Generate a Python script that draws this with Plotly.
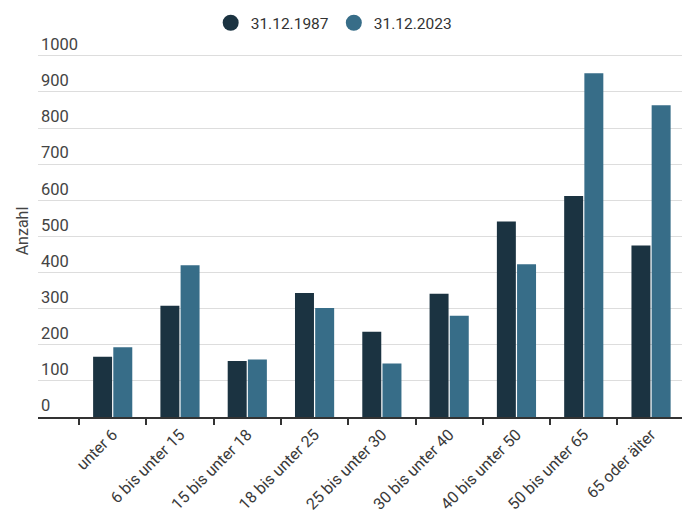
import plotly.graph_objects as go

# Age groups and counts at two reference dates
categories = ["unter 6", "6 bis unter 15", "15 bis unter 18", "18 bis unter 25",
              "25 bis unter 30", "30 bis unter 40", "40 bis unter 50",
              "50 bis unter 65", "65 oder älter"]
values_1987 = [167, 308, 155, 343, 236, 341, 541, 612, 475]
values_2023 = [193, 420, 159, 302, 148, 280, 423, 952, 863]
series_names = ["31.12.1987", "31.12.2023"]
y_ticks = [0, 100, 200, 300, 400, 500, 600, 700, 800, 900, 1000]

colors = ["#1b3341", "#376d88"]
font_family = "Roboto, Arial, sans-serif"

fig = go.Figure()
for name, vals, col in zip(series_names, [values_1987, values_2023], colors):
    fig.add_trace(go.Bar(
        x=categories, y=vals, name=name, marker_color=col,
        marker_line_width=0, showlegend=False, legendgroup=name,
    ))
    # circular legend marker
    fig.add_trace(go.Scatter(
        x=[None], y=[None], mode="markers", name=name, legendgroup=name,
        marker=dict(symbol="circle", size=16, color=col),
    ))

fig.update_layout(
    width=682, height=515,
    margin=dict(l=38, r=0, t=45, b=98),
    paper_bgcolor="white", plot_bgcolor="white",
    barmode="group", bargap=0.4, bargroupgap=0.06,
    font=dict(family=font_family, size=16, color="#3a3a3a"),
    legend=dict(
        orientation="h", xref="container", yref="container",
        x=0.49, xanchor="center", y=0.922, yanchor="bottom",
        font=dict(size=15.5, color="#333333"), itemwidth=30,
        bgcolor="rgba(0,0,0,0)",
    ),
)

fig.update_xaxes(
    type="category", range=[-1.11, 8.46],
    showline=True, linecolor="#333333", linewidth=2,
    ticks="outside", ticklen=6, tickwidth=1.5, tickcolor="#333333",
    tickson="boundaries", tickangle=-45,
    tickfont=dict(size=16, color="#3a3a3a"),
    showgrid=False, zeroline=False,
)

fig.update_yaxes(
    range=[0, 1030], tickvals=y_ticks, ticktext=[str(v) for v in y_ticks],
    ticklabelposition="inside top", ticklabeloverflow="allow", ticks="",
    tickfont=dict(size=16.5, color="#444444"),
    showgrid=True, gridcolor="#dddddd", gridwidth=1,
    zeroline=False, showline=False, automargin=False,
    title=dict(text="Anzahl", font=dict(size=16, color="#444444"), standoff=8),
)

fig.write_html("out.html")
